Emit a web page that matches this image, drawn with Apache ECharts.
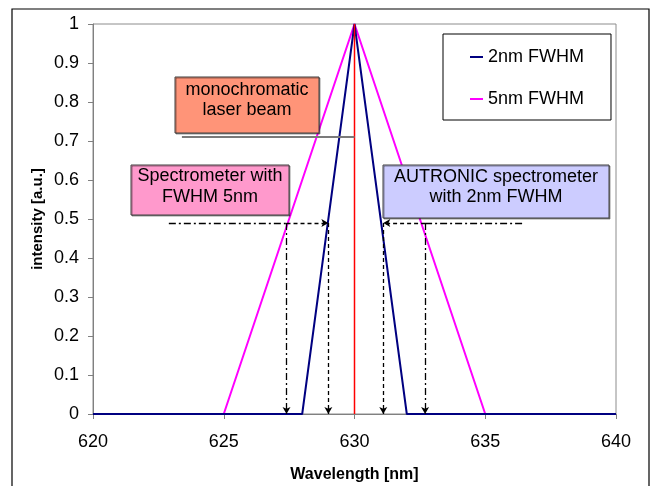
<!DOCTYPE html>
<html>
<head>
<meta charset="utf-8">
<script src="https://cdn.jsdelivr.net/npm/echarts@6/dist/echarts.min.js"></script>
<style>html,body{margin:0;padding:0;background:#fff}#c{width:652px;height:486px}</style>
</head>
<body>
<div id="c"></div>
<script>
// Data
const seriesNames = ['2nm FWHM', '5nm FWHM'];
const wl2nm = [620, 628, 630, 632, 640];
const int2nm = [0, 0, 1, 0, 0];
const wl5nm = [620, 625, 630, 635, 640];
const int5nm = [0, 0, 1, 0, 0];
const laserWl = 630;
const halfLevel = 0.49;
const fwhm5Left = 627.4, fwhm5Right = 632.7;
const fwhm2Left = 629.0, fwhm2Right = 631.1;
const leftLineStart = 622.9, rightLineEnd = 636.5;
const pointerY = 0.71, pointerStart = 623.4;
const xTicks = [620, 625, 630, 635, 640];

const FONT = '"Liberation Sans", Arial, sans-serif';
const dashDot = [7, 3, 2, 3];

function pair(a, b) { return a.map((v, i) => [v, b[i]]); }

const chart = echarts.init(document.getElementById('c'), null, {renderer: 'canvas'});

const ml = (from, to, type, arrow) => ([
  {coord: from, symbol: 'none', lineStyle: {color: '#000', width: 1.3, type: type}},
  {coord: to, symbol: arrow ? 'arrow' : 'none', symbolSize: [6, 7]}
]);

const markLines = [
  ml([leftLineStart, halfLevel], [fwhm5Left, halfLevel], dashDot, false),
  ml([fwhm5Left, halfLevel], [fwhm2Left, halfLevel], [4, 3], true),
  ml([fwhm5Left, halfLevel], [fwhm5Left, 0], dashDot, true),
  ml([fwhm2Left, halfLevel], [fwhm2Left, 0], [4, 3], true),
  ml([fwhm5Right, halfLevel], [fwhm2Right, halfLevel], [4, 3], true),
  ml([fwhm5Right, halfLevel], [rightLineEnd, halfLevel], dashDot, false),
  ml([fwhm2Right, halfLevel], [fwhm2Right, 0], [4, 3], true),
  ml([fwhm5Right, halfLevel], [fwhm5Right, 0], dashDot, true)
];

const option = {
  animation: false,
  backgroundColor: '#fff',
  textStyle: {fontFamily: FONT},
  grid: {left: 93, top: 24, right: 36, bottom: 72, show: true, borderColor: '#8c8c8c', borderWidth: 1,
    containLabel: false, outerBoundsMode: 'none'},
  legend: {
    data: [{name: seriesNames[0], icon: 'rect'}, {name: seriesNames[1], icon: 'rect'}],
    orient: 'vertical',
    left: 443, top: 34,
    padding: [13, 27, 11, 27],
    itemWidth: 13, itemHeight: 2, itemGap: 22,
    borderColor: '#000', borderWidth: 1, backgroundColor: '#fff',
    textStyle: {fontFamily: FONT, fontSize: 18, lineHeight: 20, color: '#000'},
    itemStyle: {borderWidth: 0}
  },
  xAxis: {
    type: 'value', min: 620, max: 640, interval: 5,
    name: 'Wavelength [nm]', nameLocation: 'middle', nameGap: 53,
    nameTextStyle: {fontFamily: FONT, fontSize: 16, fontWeight: 'bold', color: '#000'},
    axisLine: {show: true, onZero: false, lineStyle: {color: '#808080', width: 1}},
    axisTick: {show: true, inside: false, length: 5, lineStyle: {color: '#808080'}},
    axisLabel: {fontFamily: FONT, fontSize: 18, color: '#000', margin: 19},
    splitLine: {show: false}
  },
  yAxis: {
    type: 'value', min: 0, max: 1, interval: 0.1,
    name: 'intensity [a.u.]', nameLocation: 'middle', nameGap: 48, nameRotate: 90,
    nameMoveOverlap: false,
    nameTextStyle: {fontFamily: FONT, fontSize: 15, fontWeight: 'bold', color: '#000'},
    axisLine: {show: true, lineStyle: {color: '#808080', width: 1}},
    axisTick: {show: true, inside: false, length: 5, lineStyle: {color: '#808080'}},
    axisLabel: {fontFamily: FONT, fontSize: 18, color: '#000', margin: 14},
    splitLine: {show: false}
  },
  series: [
    {
      name: seriesNames[0], type: 'line', data: pair(wl2nm, int2nm),
      symbol: 'none', color: '#000080', lineStyle: {color: '#000080', width: 2}, z: 3
    },
    {
      name: seriesNames[1], type: 'line', data: pair(wl5nm, int5nm),
      symbol: 'none', color: '#ff00ff', lineStyle: {color: '#ff00ff', width: 2}, z: 2
    },
    {
      name: 'laser', type: 'line', data: [[laserWl, 0], [laserWl, 1]],
      symbol: 'none', color: '#ff0000', lineStyle: {color: '#ff0000', width: 1.5}, z: 4,
      markLine: {silent: true, animation: false, label: {show: false}, data: markLines, z: 5}
    },
    {
      name: 'pointer', type: 'line', data: [[pointerStart, pointerY], [laserWl, pointerY]],
      symbol: 'none', color: '#808080', lineStyle: {color: '#7a7a7a', width: 2}, z: 4
    }
  ],
  graphic: [
    {type: 'rect', shape: {x: 12, y: 9, width: 637, height: 500}, style: {fill: 'none', stroke: '#000', lineWidth: 1.2}, z: 100, silent: true},
    {type: 'rect', shape: {x: 175, y: 77, width: 144, height: 56}, style: {fill: '#ff9478', stroke: '#404040', lineWidth: 1, shadowColor: 'rgba(0,0,0,0.4)', shadowOffsetX: 1, shadowOffsetY: 1}, z: 50},
    {type: 'text', x: 247, y: 90, style: {text: 'monochromatic', font: '18px ' + FONT, fill: '#000', align: 'center', verticalAlign: 'middle'}, z: 51},
    {type: 'text', x: 247, y: 110, style: {text: 'laser beam', font: '18px ' + FONT, fill: '#000', align: 'center', verticalAlign: 'middle'}, z: 51},
    {type: 'rect', shape: {x: 131, y: 165, width: 158, height: 50}, style: {fill: '#ff99cc', stroke: '#404040', lineWidth: 1, shadowColor: 'rgba(0,0,0,0.4)', shadowOffsetX: 1, shadowOffsetY: 1}, z: 50},
    {type: 'text', x: 210, y: 176, style: {text: 'Spectrometer with', font: '18px ' + FONT, fill: '#000', align: 'center', verticalAlign: 'middle'}, z: 51},
    {type: 'text', x: 210, y: 197, style: {text: 'FWHM 5nm', font: '18px ' + FONT, fill: '#000', align: 'center', verticalAlign: 'middle'}, z: 51},
    {type: 'rect', shape: {x: 383, y: 165, width: 226, height: 53}, style: {fill: '#ccccff', stroke: '#404040', lineWidth: 1, shadowColor: 'rgba(0,0,0,0.4)', shadowOffsetX: 1, shadowOffsetY: 1}, z: 50},
    {type: 'text', x: 496, y: 177, style: {text: 'AUTRONIC spectrometer', font: '18px ' + FONT, fill: '#000', align: 'center', verticalAlign: 'middle'}, z: 51},
    {type: 'text', x: 496, y: 197, style: {text: 'with 2nm FWHM', font: '18px ' + FONT, fill: '#000', align: 'center', verticalAlign: 'middle'}, z: 51}
  ]
};
chart.setOption(option);
</script>
</body>
</html>
